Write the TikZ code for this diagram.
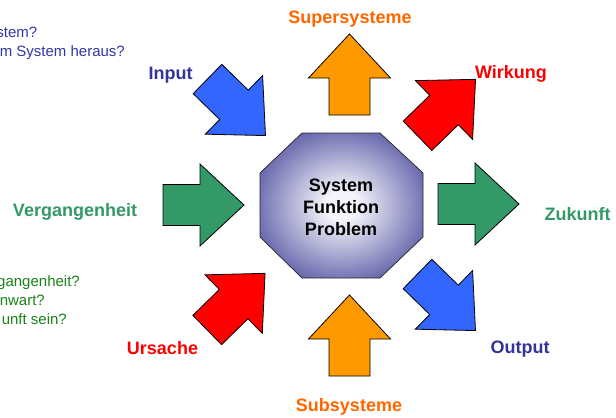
\documentclass[tikz,border=0pt]{standalone}
\usepackage{fontspec}
\setmainfont{Liberation Sans}

\definecolor{navy}{HTML}{333399}
\definecolor{arrblue}{HTML}{3366FF}
\definecolor{arrorange}{HTML}{FF9900}
\definecolor{arrred}{HTML}{FF0000}
\definecolor{arrgreen}{HTML}{339966}
\definecolor{txtorange}{HTML}{FF6600}
\definecolor{qblue}{HTML}{3336A8}
\definecolor{qgreen}{HTML}{1A841A}
\definecolor{octlight}{HTML}{F4F4FA}
\definecolor{octdark}{HTML}{30308F}

% light centre fading into deep blue towards the rim
\pgfdeclareradialshading{octoglow}{\pgfpointorigin}{%
  color(0bp)=(octlight); color(5bp)=(octlight); color(36bp)=(octdark); color(50bp)=(octdark)}

\tikzset{
  blockarrow/.pic={
    \path[pic actions] (0,-20.5) -- (37,-20.5) -- (37,-41) -- (81,0)
      -- (37,41) -- (37,20.5) -- (0,20.5) -- cycle;
  },
  arrowshape/.style={draw=black, line width=0.8bp, line join=miter},
  lab/.style={font=\bfseries\fontsize{18bp}{22bp}\selectfont, inner sep=0pt, anchor=base},
  question/.style={font=\fontsize{15bp}{19bp}\selectfont, inner sep=0pt, anchor=base east},
}

\begin{document}
\begin{tikzpicture}[x=1bp,y=-1bp]
  \fill[white] (0,0) rectangle (616,417);
  \useasboundingbox (0,0) rectangle (616,417);

  % questions, running off the left edge
  \node[question, text=qblue] (q1) at (37.5,37.5) {stem?};
  \node[question, text=qblue] (q2) at (125,56.5) {m System heraus?};
  \node[question, text=qgreen] (q3) at (80,286.5) {gangenheit?};
  \node[question, text=qgreen] (q4) at (45,305.5) {nwart?};
  \node[question, text=qgreen] (q5) at (67,324.5) {unft sein?};

  % central octagon
  \path[draw=black!85, line width=0.7bp, shading=octoglow]
    (302,133) -- (380,133) -- (423,173) -- (423,237)
    -- (380,278) -- (302,278) -- (260,237) -- (260,173) -- cycle;
  \node[font=\bfseries\fontsize{18bp}{22bp}\selectfont, align=center, inner sep=0pt]
    (core) at (341,207) {System\\Funktion\\Problem};

  % block arrows round the octagon
  \pic[arrowshape, fill=arrorange, rotate=90] at (349.5,115) {blockarrow};
  \pic[arrowshape, fill=arrorange, rotate=90] at (349.5,376) {blockarrow};
  \pic[arrowshape, fill=arrgreen] at (163,205) {blockarrow};
  \pic[arrowshape, fill=arrgreen] at (438,204) {blockarrow};
  \pic[arrowshape, fill=arrblue, rotate=-44.3] at (207.5,79) {blockarrow};
  \pic[arrowshape, fill=arrblue, rotate=-44.3] at (417.5,274) {blockarrow};
  \pic[arrowshape, fill=arrred, rotate=44.2] at (417.5,135.8) {blockarrow};
  \pic[arrowshape, fill=arrred, rotate=44.4] at (207.2,330) {blockarrow};

  % labels
  \node[lab, text=txtorange] (super) at (350,23) {Supersysteme};
  \node[lab, text=txtorange] (sub) at (349,411.5) {Subsysteme};
  \node[lab, text=navy] (in) at (170.5,79) {Input};
  \node[lab, text=navy] (out) at (520,353.5) {Output};
  \node[lab, text=arrred] (wirk) at (511,78) {Wirkung};
  \node[lab, text=arrred] (urs) at (162.5,354.5) {Ursache};
  \node[lab, text=arrgreen] (verg) at (75,216.5) {Vergangenheit};
  \node[lab, text=arrgreen] (zuk) at (577.5,220) {Zukunft};
\end{tikzpicture}
\end{document}
